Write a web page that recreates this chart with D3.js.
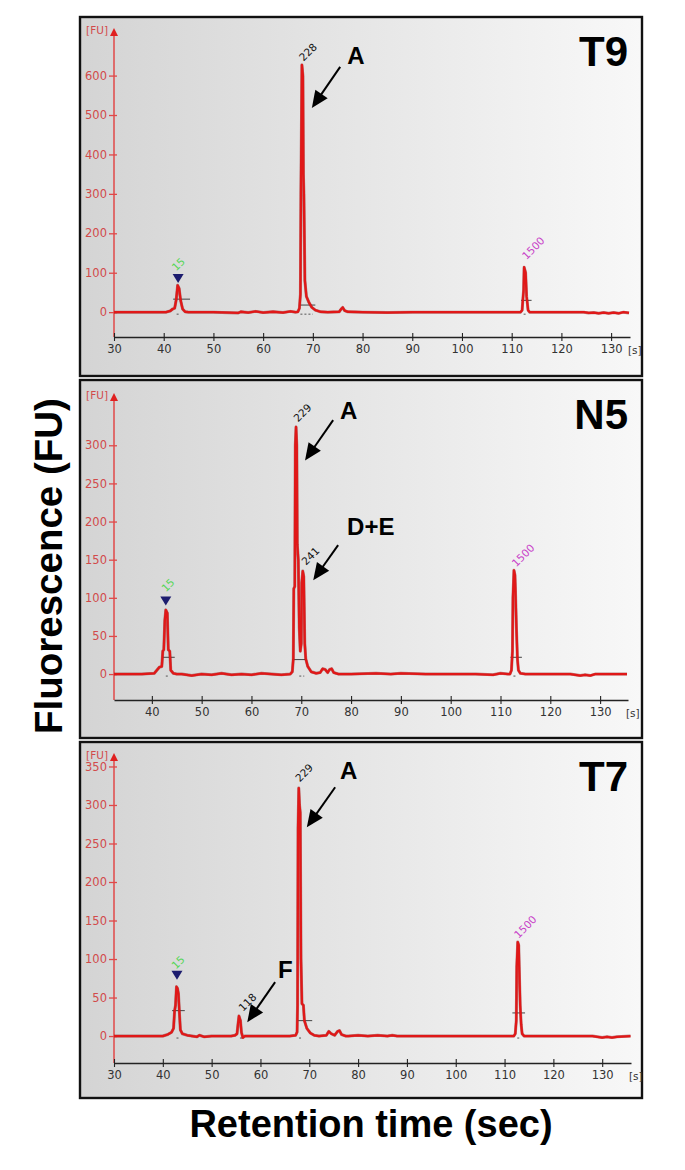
<!DOCTYPE html>
<html>
<head>
<meta charset="utf-8">
<script src="https://cdn.jsdelivr.net/npm/d3@7"></script>
<style>
  html, body { margin: 0; padding: 0; background: #ffffff; }
  svg { display: block; }
</style>
</head>
<body>
<svg id="chart" width="685" height="1170"></svg>
<script>
// ---------------- DATA ----------------
const panelNames = ["T9", "N5", "T7"];

const xDomainT9 = [30, 133.8];
const xDomainN5 = [32.4, 135.6];
const xDomainT7 = [30, 135.9];
const yDomainT9 = [-63, 708];
const yDomainN5 = [-34, 362];
const yDomainT7 = [-35, 361];

const xTicksT9 = [30, 40, 50, 60, 70, 80, 90, 100, 110, 120, 130];
const xTicksN5 = [40, 50, 60, 70, 80, 90, 100, 110, 120, 130];
const xTicksT7 = [30, 40, 50, 60, 70, 80, 90, 100, 110, 120, 130];
const yTicksT9 = [0, 100, 200, 300, 400, 500, 600];
const yTicksN5 = [0, 50, 100, 150, 200, 250, 300];
const yTicksT7 = [0, 50, 100, 150, 200, 250, 300, 350];

// electropherogram traces: [time (s), fluorescence (FU)]
const traceT9 = [
  [30,0],[36,0],[40.5,0],[41.3,3],[41.8,8],[42.2,10],[42.5,30],[42.8,68],[43.1,60],[43.4,30],[43.8,8],[44.3,1],[45,0],
  [50,0],[55,-2],[55.5,1],[57,-1],[58.5,2],[60,-1],[62,1],[64,-1],[65.5,2],[66.5,0],
  [67,1],[67.3,10],[67.5,45],[67.6,300],[67.8,627],[68.0,600],[68.1,350],[68.2,300],[68.4,80],[68.7,40],[69.2,25],[69.8,12],[70.5,5],[71.5,1],
  [73,0],[75.3,1],[75.7,8],[76.0,12],[76.4,4],[77,1],
  [80,0],[85,-1],[90,0],[100,0],[110,0],
  [111.8,0],[112.1,5],[112.3,40],[112.4,56],[112.5,114],[112.8,100],[113.0,40],[113.3,5],[113.6,0],
  [124.5,0],[125.5,-2],[126.5,-1],[127.5,-3],[128.5,-1],[129.5,-3],[130.5,-1],[131.5,-3],[132.5,0],[133.6,-2]
];
const traceN5 = [
  [32.4,0],[38,0],[40.5,1],[41,5],[41.5,9],[42,10],[42.2,30],[42.4,32],[42.6,70],[42.8,84],[43.1,80],[43.3,32],[43.6,30],[43.8,5],[44.3,1],[45,0],
  [46,0],[48,-2],[50,0],[52,-1],[54,1],[56,-1],[58,0],[60,-1],[62,1],[64,0],[66,-1],[67.8,0],
  [68.2,3],[68.4,20],[68.5,112],[68.7,115],[68.8,300],[68.95,324],[69.1,300],[69.2,170],[69.4,150],[69.6,60],[69.8,30],[70.0,40],[70.1,120],[70.3,135],[70.5,128],[70.7,40],[70.9,20],[71.3,10],[72,3],[73,1],
  [73.8,2],[74.3,7],[74.8,6],[75.3,2],[75.7,6],[76.1,7],[76.5,2],[77.5,0],
  [80,0],[85,1],[88,0],[90,1],[95,0],[100,0],[105,0],[108.5,-1],[110,1],[111.5,0],
  [111.9,0],[112.2,5],[112.4,30],[112.5,100],[112.7,136],[112.9,130],[113.0,110],[113.2,60],[113.4,20],[113.6,5],[114,1],[115,0],
  [124,0],[125,-1],[126,-2],[127,-1],[128,-2],[129,0],[135.4,0]
];
const traceT7 = [
  [30,0],[38,0],[40,0],[41,2],[41.8,5],[42.2,10],[42.4,32],[42.6,40],[42.8,64],[43.0,62],[43.2,55],[43.4,30],[43.6,8],[44,3],[45,1],[46,0],[47,-1],[47.5,1],[48.5,-1],[50,0],
  [54,0],[54.8,1],[55.2,3],[55.4,15],[55.6,26],[55.9,20],[56.1,5],[56.4,-2],[56.8,0],
  [58,0],[62,0],[66,0],[67.2,1],
  [67.5,5],[67.6,40],[67.7,270],[67.85,322],[68.0,300],[68.15,290],[68.3,100],[68.5,42],[68.8,40],[69.0,20],[69.5,10],[70.2,4],[71,1],[72,0],
  [73.5,1],[74,6],[74.5,3],[75.2,1],[75.8,6],[76.2,7],[76.6,2],[77.5,0],
  [78,0],[80,1],[82,0],[84,1],[86,0],[87,1],[88,0],[100,0],[111,0],
  [111.9,0],[112.2,3],[112.4,20],[112.5,90],[112.7,122],[112.9,118],[113.0,90],[113.2,40],[113.4,15],[113.6,3],[114,0],
  [128,0],[129,-1],[130,-2],[131,-1],[132,-2],[133,-1],[135.8,0]
];

// peak-table marks: [t start, t end, FU level]
const peakMarksT9 = [[41.9,45.3,33],[67.3,70.5,18],[111.9,114.0,30]];
const peakMarksN5 = [[42.2,44.6,22],[68.2,70.8,19],[112.0,114.3,22]];
const peakMarksT7 = [[41.9,44.5,33],[67.7,70.6,20],[111.6,114.2,30]];
// baseline dashes: [t start, t end]
const baseDashT9 = [[42.6,43.3],[67.5,70.0],[112.4,113.1]];
const baseDashN5 = [[42.8,43.4],[69.6,70.6],[112.6,113.2]];
const baseDashT7 = [[42.8,43.4],[55.8,56.4],[67.9,68.6],[112.6,113.2]];

// peak labels: text, kind, label centre (t, FU)
const peakLabelsT9 = [
  {text:"15", kind:"lower", t:42.9, v:122},
  {text:"228", kind:"sample", t:69.0, v:660},
  {text:"1500", kind:"upper", t:114.3, v:163}
];
const peakLabelsN5 = [
  {text:"15", kind:"lower", t:43.2, v:117},
  {text:"229", kind:"sample", t:70.2, v:343},
  {text:"241", kind:"sample", t:71.8, v:155},
  {text:"1500", kind:"upper", t:114.5, v:156}
];
const peakLabelsT7 = [
  {text:"15", kind:"lower", t:43.1, v:96},
  {text:"118", kind:"sample", t:57.3, v:44},
  {text:"229", kind:"sample", t:68.9, v:342},
  {text:"1500", kind:"upper", t:114.2, v:142}
];
// lower-marker triangles: [t, FU of tip]
const markerTriT9 = [[42.9, 74]];
const markerTriN5 = [[42.8, 90]];
const markerTriT7 = [[42.9, 73]];

// annotations: letter (t, FU of baseline start) and arrow (from t,v to t,v)
const annotT9 = [{text:"A", t:76.9, v:629, from:[75.5,622], to:[69.8,518]}];
const annotN5 = [
  {text:"A", t:77.8, v:335, from:[76.4,333], to:[70.75,280]},
  {text:"D+E", t:79.2, v:182, from:[77.4,169], to:[72.4,123]}
];
const annotT7 = [
  {text:"A", t:76.3, v:334, from:[75.3,323], to:[69.5,271]},
  {text:"F", t:63.6, v:75, from:[63.0,70], to:[57.3,18]}
];

const yAxisTitle = "Fluorescence (FU)";
const xAxisTitle = "Retention time (sec)";

// ---------------- LAYOUT ----------------
const panels = [
  {name: panelNames[0], box:[80,17,642,376], xr:[114,630], yr:[337,33], xd:xDomainT9, yd:yDomainT9,
   xt:xTicksT9, yt:yTicksT9, trace:traceT9, marks:peakMarksT9, dashes:baseDashT9, labels:peakLabelsT9, tri:markerTriT9, annot:annotT9},
  {name: panelNames[1], box:[80,380,642,738], xr:[114,628], yr:[700,398], xd:xDomainN5, yd:yDomainN5,
   xt:xTicksN5, yt:yTicksN5, trace:traceN5, marks:peakMarksN5, dashes:baseDashN5, labels:peakLabelsN5, tri:markerTriN5, annot:annotN5},
  {name: panelNames[2], box:[80,742,642,1098], xr:[114,631], yr:[1063,758], xd:xDomainT7, yd:yDomainT7,
   xt:xTicksT7, yt:yTicksT7, trace:traceT7, marks:peakMarksT7, dashes:baseDashT7, labels:peakLabelsT7, tri:markerTriT7, annot:annotT7}
];
const labelColor = {lower:"#55d655", sample:"#111111", upper:"#c840c8"};

const svg = d3.select("#chart");
const defs = svg.append("defs");
const grad = defs.append("linearGradient").attr("id","bg").attr("x1","0%").attr("x2","100%").attr("y1","0%").attr("y2","0%");
grad.append("stop").attr("offset","0%").attr("stop-color","#d4d4d4");
grad.append("stop").attr("offset","55%").attr("stop-color","#e8e8e8");
grad.append("stop").attr("offset","100%").attr("stop-color","#f8f8f8");

const tickFont = "DejaVu Sans, Verdana, sans-serif";
const boldFont = "Liberation Sans, Arial, Helvetica, sans-serif";

panels.forEach(p => {
  const [bx0, by0, bx1, by1] = p.box;
  const g = svg.append("g");
  g.append("rect").attr("x", bx0).attr("y", by0).attr("width", bx1 - bx0).attr("height", by1 - by0)
    .attr("fill", "url(#bg)").attr("stroke", "#111").attr("stroke-width", 2.4);

  const x = d3.scaleLinear().domain(p.xd).range(p.xr);
  const y = d3.scaleLinear().domain(p.yd).range(p.yr);

  // y axis
  const ya = g.append("g").attr("transform", `translate(${p.xr[0]},0)`)
    .call(d3.axisLeft(y).tickValues(p.yt).tickSize(5).tickPadding(2).tickSizeOuter(0));
  ya.select(".domain").remove();
  ya.selectAll(".tick line").attr("x1", 3).attr("stroke", "#e04848").attr("stroke-width", 1.3);
  ya.selectAll(".tick text").attr("fill", "#d24a4a").attr("font-family", tickFont).attr("font-size", 11.5);
  g.append("line").attr("x1", p.xr[0]).attr("x2", p.xr[0]).attr("y1", p.yr[0]).attr("y2", p.yr[1] + 2)
    .attr("stroke", "#e04848").attr("stroke-width", 1.5);
  g.append("path")
    .attr("d", `M${p.xr[0]},${p.yr[1] - 5} L${p.xr[0] - 4},${p.yr[1] + 3} L${p.xr[0] + 4},${p.yr[1] + 3} Z`)
    .attr("fill", "#e02020");
  g.append("text").attr("x", p.xr[0] - 6).attr("y", p.yr[1] + 1).attr("text-anchor", "end")
    .attr("font-family", tickFont).attr("font-size", 10.5).attr("fill", "#d24a4a").text("[FU]");

  // x axis
  const xa = g.append("g").attr("transform", `translate(0,${p.yr[0]})`)
    .call(d3.axisBottom(x).tickValues(p.xt).tickSize(4).tickPadding(4).tickSizeOuter(0));
  xa.select(".domain").attr("stroke", "#222").attr("stroke-width", 1.3);
  xa.selectAll(".tick line").attr("y1", -4).attr("stroke", "#222").attr("stroke-width", 1.1);
  xa.selectAll(".tick text").attr("fill", "#333").attr("font-family", tickFont).attr("font-size", 11.5);
  g.append("text").attr("x", p.xr[1] - 2).attr("y", p.yr[0] + 17)
    .attr("font-family", tickFont).attr("font-size", 10.5).attr("fill", "#333").text("[s]");

  // peak-table marks
  g.selectAll(".pm").data(p.marks).enter().append("line")
    .attr("x1", d => x(d[0])).attr("x2", d => x(d[1])).attr("y1", d => y(d[2])).attr("y2", d => y(d[2]))
    .attr("stroke", "#444").attr("stroke-width", 1);
  g.selectAll(".bd").data(p.dashes).enter().append("line")
    .attr("x1", d => x(d[0])).attr("x2", d => x(d[1])).attr("y1", y(0) + 2).attr("y2", y(0) + 2)
    .attr("stroke", "#555").attr("stroke-width", 1).attr("stroke-dasharray", "2,2");

  // trace
  const line = d3.line().x(d => x(d[0])).y(d => y(d[1]));
  g.append("path").datum(p.trace).attr("d", line).attr("fill", "none")
    .attr("stroke", "#8a1010").attr("stroke-width", 3).attr("stroke-linejoin", "round").attr("opacity", 0.5);
  g.append("path").datum(p.trace).attr("d", line).attr("fill", "none")
    .attr("stroke", "#e01818").attr("stroke-width", 2.3).attr("stroke-linejoin", "round");

  // lower marker triangle
  g.selectAll(".tri").data(p.tri).enter().append("path")
    .attr("d", d => { const cx = x(d[0]), cy = y(d[1]); return `M${cx},${cy} L${cx - 5.5},${cy - 9} L${cx + 5.5},${cy - 9} Z`; })
    .attr("fill", "#1c1c6e");

  // peak labels
  g.selectAll(".pl").data(p.labels).enter().append("text")
    .attr("transform", d => `translate(${x(d.t)},${y(d.v)}) rotate(-45)`)
    .attr("text-anchor", "middle").attr("dominant-baseline", "central")
    .attr("font-family", tickFont).attr("font-size", 10.5)
    .attr("fill", d => labelColor[d.kind])
    .text(d => d.text);

  // annotations
  p.annot.forEach(a => {
    g.append("text").attr("x", x(a.t)).attr("y", y(a.v))
      .attr("font-family", boldFont).attr("font-weight", "bold").attr("font-size", 24).attr("fill", "#000").text(a.text);
    const x0 = x(a.from[0]), y0 = y(a.from[1]), x1 = x(a.to[0]), y1 = y(a.to[1]);
    const dx = x1 - x0, dy = y1 - y0, len = Math.hypot(dx, dy);
    const ux = dx / len, uy = dy / len, hl = 17, hw = 7.5;
    const bxp = x1 - ux * hl, byp = y1 - uy * hl;
    g.append("line").attr("x1", x0).attr("y1", y0).attr("x2", bxp + ux * 2).attr("y2", byp + uy * 2)
      .attr("stroke", "#000").attr("stroke-width", 2);
    g.append("path")
      .attr("d", `M${x1},${y1} L${bxp - uy * hw},${byp + ux * hw} L${bxp + uy * hw},${byp - ux * hw} Z`)
      .attr("fill", "#000");
  });

  // panel name
  g.append("text").attr("x", bx1 - 14).attr("y", by0 + 49).attr("text-anchor", "end")
    .attr("font-family", boldFont).attr("font-weight", "bold").attr("font-size", 42).attr("fill", "#000")
    .text(p.name);
});

// axis titles
svg.append("text").attr("transform", "translate(62,566) rotate(-90)").attr("text-anchor", "middle")
  .attr("font-family", boldFont).attr("font-weight", "bold").attr("font-size", 38.5).attr("fill", "#000")
  .text(yAxisTitle);
svg.append("text").attr("x", 371).attr("y", 1137).attr("text-anchor", "middle")
  .attr("font-family", boldFont).attr("font-weight", "bold").attr("font-size", 38).attr("fill", "#000")
  .text(xAxisTitle);
</script>
</body>
</html>
